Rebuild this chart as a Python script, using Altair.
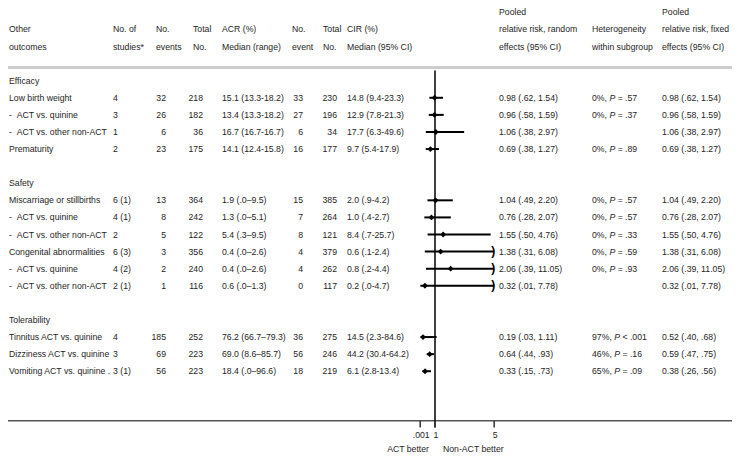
import altair as alt
import pandas as pd

# ---------------- data ----------------
section_rows = [0, 6, 14]
section_names = ["Efficacy", "Safety", "Tolerability"]

data_rows = [1, 2, 3, 4, 7, 8, 9, 10, 11, 12, 15, 16, 17]
outcomes = ["Low birth weight", "-\u00a0\u00a0ACT vs. quinine", "-\u00a0\u00a0ACT vs. other non-ACT", "Prematurity",
            "Miscarriage or stillbirths", "-\u00a0\u00a0ACT vs. quinine", "-\u00a0\u00a0ACT vs. other non-ACT",
            "Congenital abnormalities", "-\u00a0\u00a0ACT vs. quinine", "-\u00a0\u00a0ACT vs. other non-ACT",
            "Tinnitus ACT vs. quinine", "Dizziness ACT vs. quinine", "Vomiting ACT vs. quinine ."]
studies = ["4", "3", "1", "2", "6 (1)", "4 (1)", "2", "6 (3)", "4 (2)", "2 (1)", "4", "3", "3 (1)"]
act_events = [32, 26, 6, 23, 13, 8, 5, 3, 2, 1, 185, 69, 56]
act_totals = [218, 182, 36, 175, 364, 242, 122, 356, 240, 116, 252, 223, 223]
acr = ["15.1 (13.3-18.2)", "13.4 (13.3-18.2)", "16.7 (16.7-16.7)", "14.1 (12.4-15.8)",
       "1.9 (.0\u20139.5)", "1.3 (.0\u20135.1)", "5.4 (.3\u20139.5)", "0.4 (.0\u20132.6)", "0.4 (.0\u20132.6)",
       "0.6 (.0\u20131.3)", "76.2 (66.7\u201379.3)", "69.0 (8.6\u201385.7)", "18.4 (.0\u201396.6)"]
ctl_events = [33, 27, 6, 16, 15, 7, 8, 4, 4, 0, 36, 56, 18]
ctl_totals = [230, 196, 34, 177, 385, 264, 121, 379, 262, 117, 275, 246, 219]
cir = ["14.8 (9.4-23.3)", "12.9 (7.8-21.3)", "17.7 (6.3-49.6)", "9.7 (5.4-17.9)", "2.0 (.9-4.2)",
       "1.0 (.4-2.7)", "8.4 (.7-25.7)", "0.6 (.1-2.4)", "0.8 (.2-4.4)", "0.2 (.0-4.7)",
       "14.5 (2.3-84.6)", "44.2 (30.4-64.2)", "6.1 (2.8-13.4)"]
rr_est = [0.98, 0.96, 1.06, 0.69, 1.04, 0.76, 1.55, 1.38, 2.06, 0.32, 0.19, 0.64, 0.33]
rr_lo = [0.62, 0.58, 0.38, 0.38, 0.49, 0.28, 0.50, 0.31, 0.39, 0.01, 0.03, 0.44, 0.15]
rr_hi = [1.54, 1.59, 2.97, 1.27, 2.20, 2.07, 4.76, 6.08, 11.05, 7.78, 1.11, 0.93, 0.73]
het_i2 = ["0%", "0%", "", "0%", "0%", "0%", "0%", "0%", "0%", "", "97%", "46%", "65%"]
het_p = ["= .57", "= .37", "", "= .89", "= .57", "= .57", "= .33", "= .59", "= .93", "", "< .001", "= .16", "= .09"]
fx_est = [0.98, 0.96, 1.06, 0.69, 1.04, 0.76, 1.55, 1.38, 2.06, 0.32, 0.52, 0.59, 0.38]
fx_lo = [0.62, 0.58, 0.38, 0.38, 0.49, 0.28, 0.50, 0.31, 0.39, 0.01, 0.40, 0.47, 0.26]
fx_hi = [1.54, 1.59, 2.97, 1.27, 2.20, 2.07, 4.76, 6.08, 11.05, 7.78, 0.68, 0.75, 0.56]

axis_ticks = [0.001, 1, 5]
axis_tick_labels = [".001", "1", "5"]
axis_max = 5

hdr_label = ["", "Other", "outcomes"]
hdr_studies = ["", "No. of", "studies*"]
hdr_events = ["", "No.", "events"]
hdr_total = ["", "Total", "No."]
hdr_acr = ["", "ACR (%)", "Median (range)"]
hdr_cevent = ["", "No.", "event"]
hdr_ctotal = ["", "Total", "No."]
hdr_cir = ["", "CIR (%)", "Median (95% CI)"]
hdr_rr = ["Pooled", "relative risk, random", "effects (95% CI)"]
hdr_het = ["", "Heterogeneity", "within subgroup"]
hdr_fixed = ["Pooled", "relative risk, fixed", "effects (95% CI)"]


def fmt(v):
    s = f"{v:.2f}"
    return s[1:] if v < 1 else s


def rr_text(e, l, h):
    return f"{e:.2f} ({fmt(l)}, {fmt(h)})"


# ---------------- styling / layout ----------------
FONT = "Liberation Sans"
FS = 8.7
TXT = "#1e1e1e"
W, H = 724, 445
Y = alt.Scale(domain=[-4.254, 21.785], reverse=True, nice=False, zero=False)
X = alt.Scale(domain=[-27.851, 21.068], nice=False, zero=False)

df = pd.DataFrame({
    "r": data_rows, "label": outcomes, "studies": studies,
    "ev": [str(v) for v in act_events], "tot": [str(v) for v in act_totals], "acr": acr,
    "cev": [str(v) for v in ctl_events], "ctot": [str(v) for v in ctl_totals], "cir": cir,
    "est": rr_est, "lo": rr_lo, "hi": rr_hi,
    "rr": [rr_text(e, l, h) for e, l, h in zip(rr_est, rr_lo, rr_hi)],
    "fx": [rr_text(e, l, h) for e, l, h in zip(fx_est, fx_lo, fx_hi)],
    "i2": [s + ", " if s else "" for s in het_i2],
    "pp": ["P" if s else "" for s in het_i2],
    "pv": het_p,
})

# Arial-metric widths (per 1000 em) for heterogeneity run-in text
CW = {"0": 556, "1": 556, "2": 556, "3": 556, "4": 556, "5": 556, "6": 556, "7": 556, "8": 556, "9": 556,
      "%": 889, ",": 278, " ": 278}
HET_X = 584
df["px"] = [HET_X + sum(CW.get(c, 556) for c in s) * FS / 1000 for s in df["i2"]]
df["vx"] = df["px"] + 667 * FS / 1000 + 278 * FS / 1000

sec = pd.DataFrame({"r": section_rows, "label": section_names})


def text_layer(data, field, x, align="left", **kw):
    return alt.Chart(data).mark_text(align=align, baseline="middle", font=FONT, fontSize=FS,
                                     color=TXT, **kw).encode(
        x=alt.value(x), y=alt.Y("r:Q", scale=Y, axis=None), text=alt.Text(f"{field}:N"))


def header_layer(lines, x):
    hd = pd.DataFrame({"r": [-4, -3, -2], "t": lines})
    hd = hd[hd["t"] != ""]
    return text_layer(hd, "t", x)


layers = []
# header rule and axis rule
layers.append(alt.Chart(pd.DataFrame({"a": [0]})).mark_rule(color="#cdcdcd", strokeWidth=3).encode(
    x=alt.value(0), x2=alt.value(W), y=alt.Y(datum=-0.777, scale=Y, axis=None)))
layers.append(alt.Chart(pd.DataFrame({"a": [0]})).mark_rule(color="#555555", strokeWidth=1.5).encode(
    x=alt.value(0), x2=alt.value(W), y=alt.Y(datum=19.9, scale=Y, axis=None)))

# headers
for lines, x in [(hdr_label, 1), (hdr_studies, 105), (hdr_events, 148), (hdr_total, 185),
                 (hdr_acr, 214), (hdr_cevent, 284), (hdr_ctotal, 315), (hdr_cir, 339),
                 (hdr_rr, 491), (hdr_het, HET_X), (hdr_fixed, 654)]:
    layers.append(header_layer(lines, x))

# section labels
layers.append(text_layer(sec, "label", 1))
# table columns
layers += [
    text_layer(df, "label", 1),
    text_layer(df, "studies", 105),
    text_layer(df, "ev", 158, "right"),
    text_layer(df, "tot", 195, "right"),
    text_layer(df, "acr", 214),
    text_layer(df, "cev", 295, "right"),
    text_layer(df, "ctot", 329, "right"),
    text_layer(df, "cir", 339),
    text_layer(df, "rr", 491),
    text_layer(df, "i2", HET_X),
    text_layer(df, "fx", 654),
]
layers.append(alt.Chart(df).mark_text(align="left", baseline="middle", font=FONT, fontSize=FS, color=TXT,
                                      fontStyle="italic").encode(
    x=alt.X("px:Q", scale=None), y=alt.Y("r:Q", scale=Y, axis=None), text="pp:N"))
layers.append(alt.Chart(df).mark_text(align="left", baseline="middle", font=FONT, fontSize=FS, color=TXT).encode(
    x=alt.X("vx:Q", scale=None), y=alt.Y("r:Q", scale=Y, axis=None), text="pv:N"))

# forest plot
layers.append(alt.Chart(pd.DataFrame({"a": [0]})).mark_rule(color="black", strokeWidth=1.5).encode(
    x=alt.X(datum=1, scale=X, axis=None), y=alt.Y(datum=-0.6, scale=Y, axis=None),
    y2=alt.Y2(datum=20.3)))
fp = alt.Chart(df).transform_calculate(hic=f"min(datum.hi, {axis_max})")
layers.append(fp.mark_rule(color="black", strokeWidth=2).encode(
    x=alt.X("lo:Q", scale=X, axis=None), x2="hic:Q", y=alt.Y("r:Q", scale=Y, axis=None)))
layers.append(fp.mark_point(shape="diamond", filled=True, color="black", size=34, opacity=1).encode(
    x=alt.X("est:Q", scale=X, axis=None), y=alt.Y("r:Q", scale=Y, axis=None)))
layers.append(alt.Chart(df).transform_filter(f"datum.hi > {axis_max}").mark_text(
    text=")", font=FONT, fontSize=12, fontWeight="bold", color="black", baseline="middle", dx=-1, dy=-1).encode(
    x=alt.X(datum=axis_max, scale=X, axis=None), y=alt.Y("r:Q", scale=Y, axis=None)))

# custom axis
tk = pd.DataFrame({"v": axis_ticks, "t": axis_tick_labels})
layers.append(alt.Chart(tk).mark_rule(color="#333333", strokeWidth=1.5).encode(
    x=alt.X("v:Q", scale=X, axis=None), y=alt.Y(datum=19.9, scale=Y, axis=None), y2=alt.Y2(datum=20.3)))
layers.append(alt.Chart(tk).mark_text(font=FONT, fontSize=FS, color=TXT, baseline="middle", dx=1).encode(
    x=alt.X("v:Q", scale=X, axis=None), y=alt.Y(datum=20.75, scale=Y, axis=None), text="t:N"))
layers.append(alt.Chart(pd.DataFrame({"a": [0]})).mark_text(
    text="ACT better", font=FONT, fontSize=FS, color=TXT, align="right", baseline="middle", dx=-6).encode(
    x=alt.X(datum=1, scale=X, axis=None), y=alt.Y(datum=21.55, scale=Y, axis=None)))
layers.append(alt.Chart(pd.DataFrame({"a": [0]})).mark_text(
    text="Non-ACT better", font=FONT, fontSize=FS, color=TXT, align="left", baseline="middle", dx=8).encode(
    x=alt.X(datum=1, scale=X, axis=None), y=alt.Y(datum=21.55, scale=Y, axis=None)))

chart = alt.layer(*layers).properties(
    width=W, height=H, padding=0, autosize=alt.AutoSizeParams(type="none")
).configure_view(stroke=None)

chart.save("out.html", embed_options={"renderer": "svg", "actions": False})
